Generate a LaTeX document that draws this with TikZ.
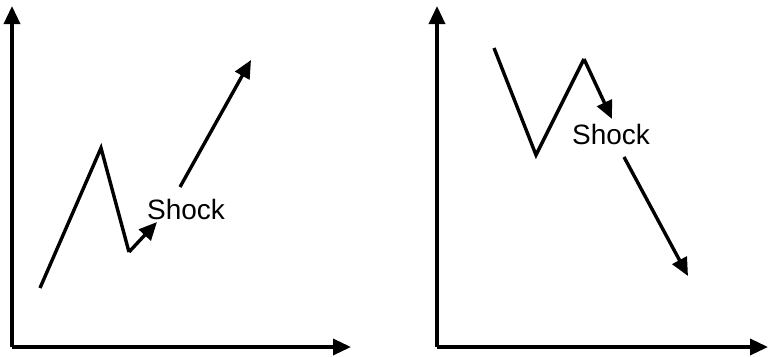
\documentclass[tikz,border=0pt]{standalone}
\usepackage{fontspec}
\setmainfont{Liberation Sans}
\usetikzlibrary{arrows.meta}
\begin{document}
\begin{tikzpicture}[x=1pt,y=-1pt,
  axis/.style={line width=3.4pt,-{Triangle[length=18pt,width=16pt]}},
  trend/.style={line width=3.4pt,line join=miter},
  arr/.style={line width=3.4pt,-{Triangle[length=18pt,width=16pt]}},
  lbl/.style={font=\fontsize{28}{30}\selectfont,inner sep=0pt}]
\useasboundingbox (0,0) rectangle (768,356);
% left panel
\coordinate (lo) at (12,347);
\coordinate (ly) at (12,6);
\coordinate (lx) at (351,347);
\draw[axis] (lo) -- (ly);
\draw[axis] (lo) -- (lx);
\coordinate (a1) at (40,288);
\coordinate (a2) at (101,148);
\coordinate (a3) at (129,252);
\coordinate (a4) at (157,222);
\draw[trend] (a1) -- (a2) -- (a3);
\draw[arr] (a3) -- (a4);
\coordinate (a5) at (180,187);
\coordinate (a6) at (251,60);
\draw[arr] (a5) -- (a6);
\node[lbl] (s1) at (186,209) {Shock};
% right panel
\coordinate (ro) at (437,347);
\coordinate (ry) at (437,6);
\coordinate (rx) at (768,347);
\draw[axis] (ro) -- (ry);
\draw[axis] (ro) -- (rx);
\coordinate (b1) at (494,48);
\coordinate (b2) at (536,155);
\coordinate (b3) at (584,59);
\coordinate (b4) at (612,119);
\draw[trend] (b1) -- (b2) -- (b3);
\draw[arr] (b3) -- (b4);
\coordinate (b5) at (624,157);
\coordinate (b6) at (688,276);
\draw[arr] (b5) -- (b6);
\node[lbl] (s2) at (611,134) {Shock};
\end{tikzpicture}
\end{document}
